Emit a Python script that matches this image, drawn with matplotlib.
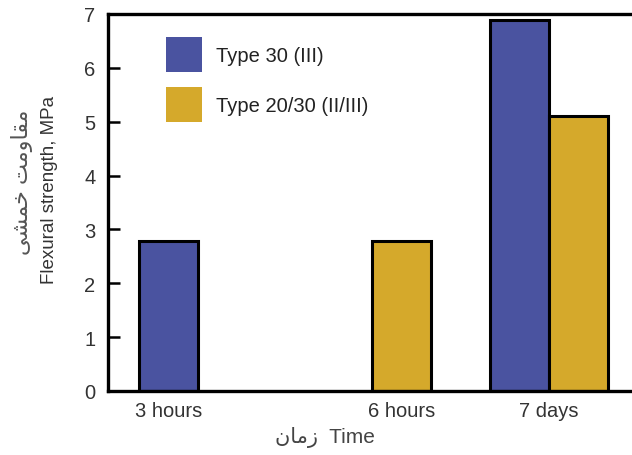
import numpy as np
import matplotlib
matplotlib.use("Agg")
import matplotlib.pyplot as plt
from matplotlib.patches import Patch

# data
categories = ['3 hours', '6 hours', '7 days']
type30 = [2.78, None, 6.88]
type2030 = [None, 2.78, 5.10]
series_names = ['Type 30 (III)', 'Type 20/30 (II/III)']
colors = ['#4a53a0', '#d5a92b']

# persian labels, pre-shaped (presentation forms, visual order)
fa_ylabel = '\uFBFD\uFEB8\uFEE4\uFEA7 \uFE96\uFEE3\uFEED\uFE8E\uFED8\uFEE3'
fa_xlabel = '\uFEAF\uFEE3\uFE8E\uFEE5'[::-1]

plt.rcParams['font.family'] = ['Liberation Sans', 'DejaVu Sans']

fig = plt.figure(figsize=(6.32, 4.56), dpi=100)
ax = fig.add_axes([108/632, 64/456, 532/632, 377/456])

# group centres (uneven spacing like the original)
xpos = [0, 3.95, 6.45]
w = 1.0
for i, cat in enumerate(categories):
    vals = [type30[i], type2030[i]]
    present = [k for k in range(2) if vals[k] is not None]
    n = len(present)
    for j, k in enumerate(present):
        off = (j - (n - 1) / 2) * w
        ax.bar(xpos[i] + off, vals[k], width=w, color=colors[k],
               edgecolor='black', linewidth=2.2)

ax.set_xlim(-1.02, 8.0)
ax.set_ylim(0, 7)
ax.set_yticks(range(8))
ax.set_xticks(xpos)
ax.set_xticklabels(categories)
ax.tick_params(axis='y', direction='in', length=8.5, width=1.8, labelsize=14.5,
               pad=9, labelcolor='#333333')
ax.tick_params(axis='x', length=0, labelsize=14.5, pad=7, labelcolor='#333333')
for s in ax.spines.values():
    s.set_linewidth(2.4)

fig.text(50/632, 1 - 190/456, 'Flexural strength, MPa', rotation=90,
         ha='center', va='center', fontsize=13.5, color='#333333')
fig.text(22/632, 1 - 182/456, fa_ylabel, rotation=90,
         ha='center', va='center', fontsize=16, color='#555555')
fig.text(325/632, 1 - 438/456, fa_xlabel + '  Time',
         ha='center', va='center', fontsize=15, color='#444444')

handles = [Patch(facecolor=c, edgecolor='none') for c in colors]
ax.legend(handles, series_names, loc='upper left',
          bbox_to_anchor=((166-108)/532, (392-38)/377),
          frameon=False, handlelength=1.8, handleheight=2.3,
          labelspacing=0.75, handletextpad=0.7, borderpad=0, borderaxespad=0,
          fontsize=14.5, labelcolor='#222222')

fig.savefig('out.png', dpi=100)
